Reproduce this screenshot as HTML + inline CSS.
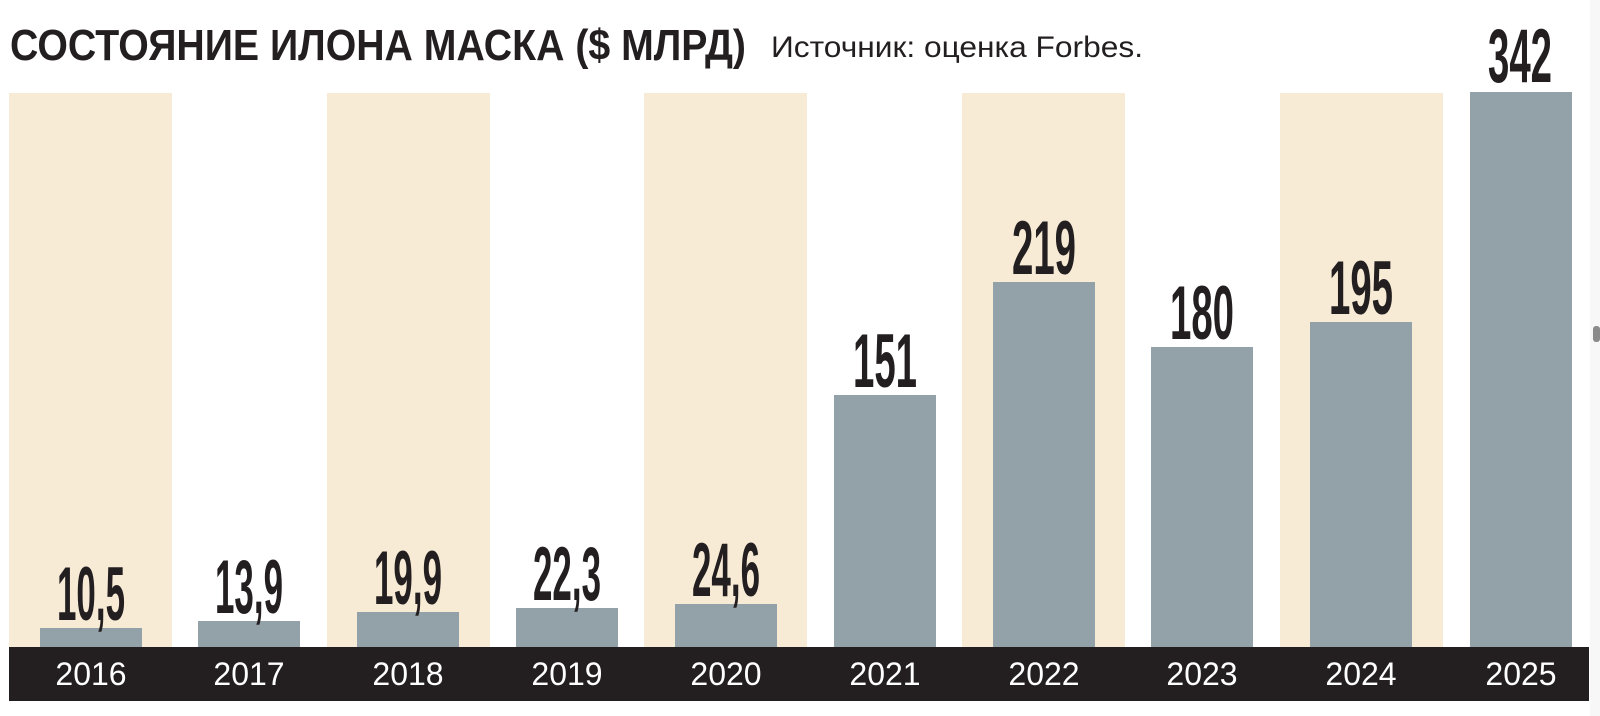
<!DOCTYPE html>
<html><head><meta charset="utf-8"><style>html,body{margin:0;padding:0;background:#fff}svg{display:block}</style></head>
<body>
<svg width="1600" height="716" viewBox="0 0 1600 716" xmlns="http://www.w3.org/2000/svg">
<rect x="1590" y="0" width="10" height="716" fill="#f7f7f7"/>
<rect x="1593" y="326" width="7" height="16" rx="3" fill="#8a8a8a"/>
<g fill="#f8ebd6">
<rect x="9" y="93" width="163" height="554"/>
<rect x="327" y="93" width="163" height="554"/>
<rect x="644" y="93" width="163" height="554"/>
<rect x="962" y="93" width="163" height="554"/>
<rect x="1280" y="93" width="163" height="554"/>
</g>
<g fill="#93a1a8">
<rect x="40" y="628" width="102" height="19"/>
<rect x="198" y="621" width="102" height="26"/>
<rect x="357" y="612" width="102" height="35"/>
<rect x="516" y="608" width="102" height="39"/>
<rect x="675" y="604" width="102" height="43"/>
<rect x="834" y="395" width="102" height="252"/>
<rect x="993" y="282" width="102" height="365"/>
<rect x="1151" y="347" width="102" height="300"/>
<rect x="1310" y="322" width="102" height="325"/>
<rect x="1470" y="92" width="102" height="555"/>
</g>
<rect x="9" y="647" width="1580" height="54" fill="#231f20"/>
<g font-family="Liberation Sans, sans-serif" font-size="32" fill="#fff" text-anchor="middle">
<text x="91" y="685">2016</text><text x="249" y="685">2017</text><text x="408" y="685">2018</text><text x="567" y="685">2019</text><text x="726" y="685">2020</text>
<text x="885" y="685">2021</text><text x="1044" y="685">2022</text><text x="1202" y="685">2023</text><text x="1361" y="685">2024</text><text x="1521" y="685">2025</text>
</g>
<g font-family="Liberation Sans, sans-serif" font-weight="bold" font-size="76" fill="#231f20">
<text x="57" y="620" textLength="68" lengthAdjust="spacingAndGlyphs">10,5</text>
<text x="215" y="613" textLength="68" lengthAdjust="spacingAndGlyphs">13,9</text>
<text x="374" y="604" textLength="68" lengthAdjust="spacingAndGlyphs">19,9</text>
<text x="533" y="600" textLength="68" lengthAdjust="spacingAndGlyphs">22,3</text>
<text x="692" y="596" textLength="68" lengthAdjust="spacingAndGlyphs">24,6</text>
<text x="853" y="387" textLength="64" lengthAdjust="spacingAndGlyphs">151</text>
<text x="1012" y="274" textLength="64" lengthAdjust="spacingAndGlyphs">219</text>
<text x="1170" y="339" textLength="64" lengthAdjust="spacingAndGlyphs">180</text>
<text x="1329" y="314" textLength="64" lengthAdjust="spacingAndGlyphs">195</text>
<text x="1488" y="82" textLength="64" lengthAdjust="spacingAndGlyphs">342</text>
</g>
<text x="10" y="60" font-family="Liberation Sans, sans-serif" font-weight="bold" font-size="44" fill="#231f20" textLength="736" lengthAdjust="spacingAndGlyphs">СОСТОЯНИЕ ИЛОНА МАСКА ($ МЛРД)</text>
<text x="771" y="57" font-family="Liberation Sans, sans-serif" font-size="30" fill="#231f20" textLength="372" lengthAdjust="spacingAndGlyphs">Источник: оценка Forbes.</text>
</svg>
</body></html>
